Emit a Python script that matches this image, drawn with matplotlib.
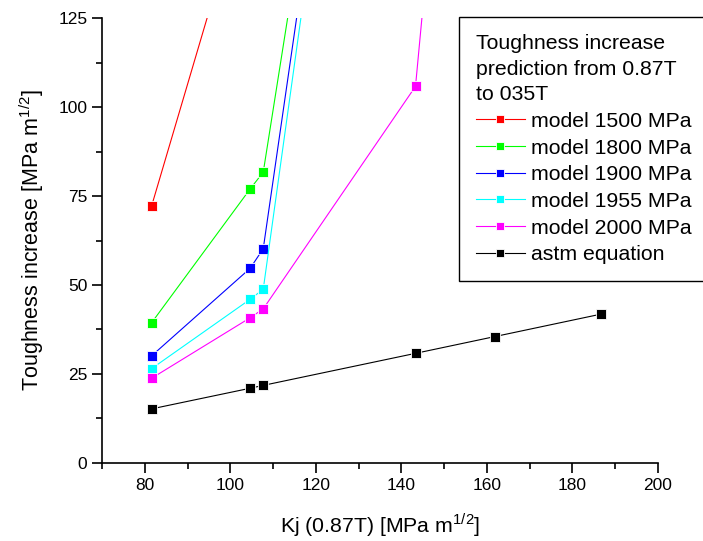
"""
    TOUGHNESS INCREASE 0.87T -> 035T
"""
import matplotlib
matplotlib.use("Agg")
from matplotlib import pyplot as plt

plt.rcParams['font.family'] = ['Liberation Sans', 'DejaVu Sans']
plt.rcParams['mathtext.fontset'] = 'custom'
plt.rcParams['mathtext.rm'] = 'Liberation Sans'

# -- Data (last points of model curves lie above the plot) --
kj_model = [81.6, 104.65, 107.7, 143.3, 161.8]
model_1500 = [72.2, 166.0]
model_1800 = [39.4, 77.0, 81.7, 352.0]
model_1900 = [30.1, 54.7, 60.2, 356.0]
model_1955 = [26.5, 46.0, 48.8, 357.0]
model_2000 = [23.8, 40.8, 43.3, 105.8, 343.0]

kj_astm = [81.6, 104.65, 107.7, 143.3, 161.8, 186.6]
astm = [15.2, 21.0, 21.8, 30.8, 35.5, 41.8]

series = [
    ("model 1500 MPa", model_1500, "#ff0000"),
    ("model 1800 MPa", model_1800, "#00ff00"),
    ("model 1900 MPa", model_1900, "#0000ff"),
    ("model 1955 MPa", model_1955, "#00ffff"),
    ("model 2000 MPa", model_2000, "#ff00ff"),
]

fig = plt.figure(figsize=(7.03, 5.41), dpi=100)
ax = fig.add_axes([0.1451, 0.1442, 0.7909, 0.8225])

for name, vals, col in series:
    ax.plot(kj_model[:len(vals)], vals, color=col, lw=0.8, marker='s', ms=7.5,
            mfc=col, mec='white', mew=0.6, label=name)
ax.plot(kj_astm, astm, color='black', lw=0.8, marker='s', ms=7.5,
        mfc='black', mec='white', mew=0.6, label="astm equation")

ax.set_xlim(70, 200)
ax.set_ylim(0, 125)
ax.set_xticks([80, 100, 120, 140, 160, 180, 200])
ax.set_xticks(range(70, 201, 10), minor=True)
ax.set_yticks([0, 25, 50, 75, 100, 125])
ax.set_yticks([12.5 * i for i in range(11)], minor=True)
ax.tick_params(which='major', direction='out', length=7, width=1.2, labelsize=12.5)
ax.tick_params(which='minor', direction='out', length=4, width=1.2)
for s in ['top', 'right']:
    ax.spines[s].set_visible(False)
for s in ['left', 'bottom']:
    ax.spines[s].set_linewidth(1.2)

ax.set_xlabel("Kj (0.87T) [MPa m$^{1/2}$]", fontsize=15.3, labelpad=13)
ax.set_ylabel("Toughness increase [MPa m$^{1/2}$]", fontsize=15.5, labelpad=9)

leg = fig.legend(loc='upper right', bbox_to_anchor=(1.008, 0.969),
                 title="Toughness increase\nprediction from 0.87T\nto 035T",
                 title_fontsize=15.3, fontsize=15.3, frameon=True, fancybox=False,
                 edgecolor='black', framealpha=1, handlelength=2.3,
                 handletextpad=0.3, labelspacing=0.36, borderpad=0.8,
                 borderaxespad=0, alignment='left', markerscale=0.85)
leg.get_title().set_linespacing(1.45)
leg.get_frame().set_linewidth(1.0)

plt.savefig("out.png", dpi=100)
